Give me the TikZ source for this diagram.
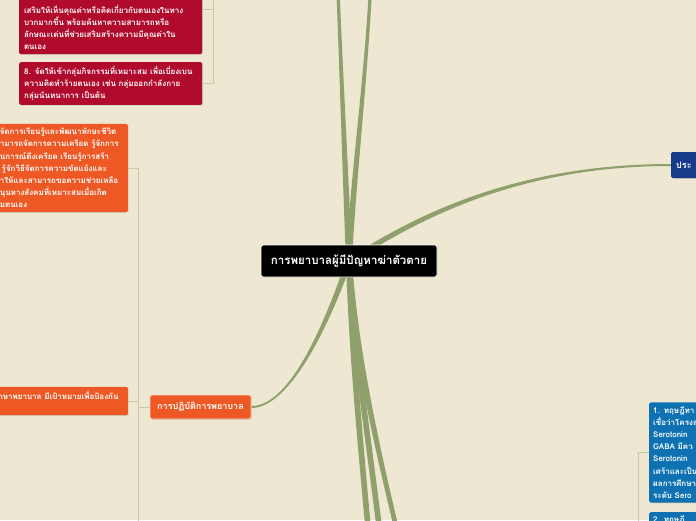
\documentclass[tikz,border=0pt]{standalone}
\usepackage{fontspec}
\setmainfont[Script=Thai]{Loma}
\usetikzlibrary{positioning,calc,fit,shadows}
\definecolor{paper}{RGB}{238,232,210}
\definecolor{stemgreen}{RGB}{143,160,108}
\definecolor{sprigline}{RGB}{200,201,166}
\definecolor{crimson}{RGB}{176,10,44}
\definecolor{flame}{RGB}{238,88,36}
\definecolor{navy}{RGB}{24,58,138}
\definecolor{ocean}{RGB}{14,114,178}
\pgfdeclarelayer{limbs}
\pgfsetlayers{limbs,main}
\tikzset{%
  topic/.style={%
    fill=black, draw=white, line width=0.6pt, rounded corners=2.5pt,
    text=white, font=\bfseries\fontsize{11.5}{13}\selectfont,
    minimum width=176pt, minimum height=32pt
  },
  cardtext/.style={%
    text=white, align=left,
    font=\bfseries\fontsize{8}{12.2}\selectfont
  },
  card/.style={%
    cardtext, rounded corners=1.5pt,
    inner xsep=5pt, inner ysep=4pt,
    drop shadow={opacity=0.25,shadow xshift=0.8pt,shadow yshift=-0.8pt}
  },
  sprig/.style={%
    draw=sprigline, line width=0.9pt
  },
  limb/.style={%
    fill=stemgreen
  }
}
% tapered branch: start, control 1, control 2, end, start half width, end half width
\newcommand{\limb}[6]{%
  \fill[limb] ($(#1)+#5$) .. controls ($#2+#5$) and ($#3+#6$) .. ($(#4)+#6$)
    -- ($(#4)-#6$) .. controls ($#3-#6$) and ($#2-#5$) .. ($(#1)-#5$) -- cycle;
}

\begin{document}
\begin{tikzpicture}[x=1pt,y=-1pt]
  \useasboundingbox (0,0) rectangle (696,520);
  \begin{pgfonlayer}{limbs}
    \fill[paper] (0,0) rectangle (696,520);
  \end{pgfonlayer}

  % centre
  \node[topic] (hub) at (349,261) {การพยาบาลผู้มีปัญหาฆ่าตัวตาย};

  % top left
  \node[card, fill=crimson, inner sep=0pt, fit={(19,-36) (202,54)}] (care7) {};
  \node[cardtext, anchor=south west, inner sep=0pt] (care7text) at ($(care7.south west)+(5,-4)$)
    {เสริมให้เห็นคุณค่าหรือคิดเกี่ยวกับตนเองในทาง\\บวกมากขึ้น พร้อมค้นหาความสามารถหรือ\\ลักษณะเด่นที่ช่วยเสริมสร้างความมีคุณค่าใน\\ตนเอง};
  \node[card, fill=crimson, text width=173pt, anchor=west] (care8) at (19,83.5)
    {8. จัดให้เข้ากลุ่มกิจกรรมที่เหมาะสม เพื่อเบี่ยงเบน\\ความคิดทำร้ายตนเอง เช่น กลุ่มออกกำลังกาย\\กลุ่มนันทนาการ เป็นต้น};
  \coordinate (caretrunk) at (213,-60);
  \draw[sprig] (caretrunk) |- (care7.east);
  \draw[sprig] (caretrunk) |- (care8.east);

  % left
  \node[card, fill=flame, draw=white!75!flame, line width=0.8pt, align=center,
    font=\bfseries\fontsize{9}{12}\selectfont,
    minimum width=101pt, minimum height=24pt] (nursing) at (200.5,407) {การปฏิบัติการพยาบาล};
  \node[card, fill=flame, text width=123pt, anchor=east] (skill) at (128,168)
    {จัดการเรียนรู้และพัฒนาทักษะชีวิต\\ามารถจัดการความเครียด รู้จักการ\\นการณ์ตึงเครียด เรียนรู้การสร้า\\\hspace*{-6pt}ที่ รู้จักวิธีจัดการความขัดแย้งและ\\าให้และสามารถขอความช่วยเหลือ\\นุนทางสังคมที่เหมาะสมเมื่อเกิด\\มตนเอง};
  \node[card, fill=flame, text width=123pt, anchor=east] (protect) at (128,401)
    {\hspace*{-6pt}รักษาพยาบาล มีเป้าหมายเพื่อป้องกัน\\\mbox{}};
  \coordinate (nursemore) at (128,600);
  \draw[sprig] (nursing.west) -- ++(-11,0) coordinate (nursejoint) |- (skill.east);
  \draw[sprig] (nursejoint) |- (protect.east);
  \draw[sprig] (nursejoint) |- (nursemore);

  % right
  \node[card, fill=navy, anchor=west, minimum height=26pt, text width=40pt,
    font=\bfseries\fontsize{9}{12}\selectfont] (kind) at (671,165) {ประ};
  \node[card, fill=ocean, anchor=west, text width=60pt, inner xsep=4pt] (theory1) at (649,452.5)
    {1. ทฤษฎีทา\\เชื่อว่าโครงส\\Serotonin\\GABA มีคว\\Serotonin\\เศร้าและเป็น\\ผลการศึกษา\\ระดับ Sero};
  \node[card, fill=ocean, anchor=north west, text width=60pt, inner xsep=4pt] (theory2) at (649,512)
    {2. ทฤษฎี\\\mbox{}};
  \coordinate (theorytrunk) at (638,600);
  \draw[sprig] (theorytrunk) |- (theory1.west);
  \draw[sprig] (theorytrunk) |- (theory2.west);

  % branches
  \coordinate (upleft) at (337.5,-20);
  \coordinate (upright) at (371,-20);
  \coordinate (downone) at (371,560);
  \coordinate (downtwo) at (383,560);
  \coordinate (downthree) at (404,560);
  \begin{pgfonlayer}{limbs}
    \limb{hub}{(345.2,167)}{(341.3,73)}{upleft}{(3,0)}{(1.6,0)}
    \limb{hub}{(353,180)}{(366,80)}{upright}{(3,0)}{(1.6,0)}
    \limb{hub}{(352,360)}{(362,460)}{downone}{(3,0)}{(2.8,0)}
    \limb{hub}{(355,360)}{(372,460)}{downtwo}{(3,0)}{(2.8,0)}
    \limb{hub}{(356,360)}{(380,460)}{downthree}{(3,0)}{(2.4,0)}
    \limb{hub}{(328,321)}{(291,407)}{nursing.east}{(3,0)}{(0,1)}
    \limb{hub}{(420,215)}{(520,165)}{kind.west}{(0.5,2.8)}{(0,1)}
  \end{pgfonlayer}
\end{tikzpicture}
\end{document}
